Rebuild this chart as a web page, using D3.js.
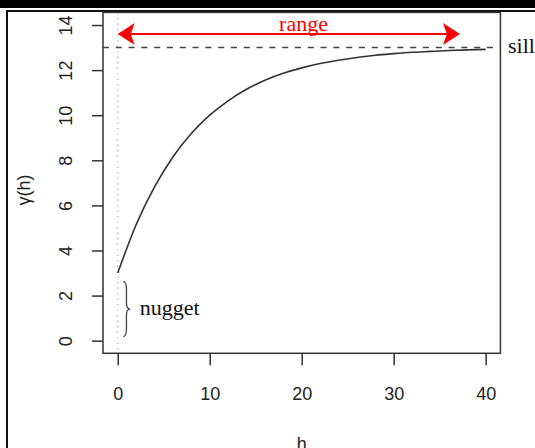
<!DOCTYPE html>
<html>
<head>
<meta charset="utf-8">
<script src="https://cdn.jsdelivr.net/npm/d3@7/dist/d3.min.js"></script>
<style>
  body { margin: 0; background: #fff; }
  svg { display: block; }
</style>
</head>
<body>
<script>
// values
const lags = [0, 2, 4, 6, 8, 10, 12, 14, 16, 18, 20, 22, 24, 26, 28, 30, 32, 34, 36, 38, 40];
const gamma = [3.0, 5.14, 6.82, 8.15, 9.19, 10.0, 10.64, 11.15, 11.55, 11.86, 12.1, 12.29, 12.44, 12.56, 12.66, 12.73, 12.79, 12.83, 12.87, 12.9, 12.92];
const xTicks = [0, 10, 20, 30, 40];
const yTicks = [0, 2, 4, 6, 8, 10, 12, 14];
const nugget = 3;
const sill = 13;
const rangeEnd = 37.2;
const arrowLevel = 13.6;

const w = 535;
const h = 448;
const svg = d3.select("body").append("svg").attr("width", w).attr("height", h);

// outer frame like the screenshot
svg.append("rect").attr("x", 0).attr("y", 0).attr("width", w).attr("height", 8).attr("fill", "#000");
svg.append("path").attr("d", `M7,${h} V11 H${w}`).attr("fill", "none").attr("stroke", "#111").attr("stroke-width", 2);

const x = d3.scaleLinear().domain([-1.6, 41.6]).range([103, 500.4]);
const y = d3.scaleLinear().domain([-0.56, 14.56]).range([353.3, 12.4]);

// x = 0 dotted guide
svg.append("line")
  .attr("x1", x(0)).attr("x2", x(0))
  .attr("y1", y.range()[1]).attr("y2", y.range()[0])
  .attr("stroke", "#bbb").attr("stroke-width", 1.2)
  .attr("stroke-dasharray", "1.5,4");

// sill dashed line
svg.append("line")
  .attr("x1", x.range()[0]).attr("x2", x.range()[1])
  .attr("y1", y(sill)).attr("y2", y(sill))
  .attr("stroke", "#444").attr("stroke-width", 1.5)
  .attr("stroke-dasharray", "6,6.8");

// variogram curve
const line = d3.line()
  .x((d, i) => x(lags[i]))
  .y((d) => y(d))
  .curve(d3.curveMonotoneX);
svg.append("path")
  .datum(gamma)
  .attr("d", line)
  .attr("fill", "none")
  .attr("stroke", "#333")
  .attr("stroke-width", 1.6);

// range arrow
const ay = y(arrowLevel);
const x0 = x(0), x1 = x(rangeEnd);
const hl = 17, hw = 11, notch = 4;
svg.append("line")
  .attr("x1", x0 + 5).attr("x2", x1 - 5)
  .attr("y1", ay).attr("y2", ay)
  .attr("stroke", "#ff0000").attr("stroke-width", 2);
svg.append("path")
  .attr("d", `M${x1},${ay} L${x1 - hl},${ay - hw} L${x1 - hl + notch},${ay} L${x1 - hl},${ay + hw} Z`)
  .attr("fill", "#ff0000");
svg.append("path")
  .attr("d", `M${x0},${ay} L${x0 + hl},${ay - hw} L${x0 + hl - notch},${ay} L${x0 + hl},${ay + hw} Z`)
  .attr("fill", "#ff0000");
svg.append("text")
  .attr("x", x(20.2)).attr("y", 31)
  .attr("text-anchor", "middle")
  .attr("font-family", "Liberation Serif, serif")
  .attr("font-size", 22)
  .attr("fill", "#ff0000")
  .text("range");

// nugget brace
const bx = x(0.6), bmid = x(0.95), btip = x(1.35);
const bt = y(2.62), bb = y(0.18), bm = y(1.4);
svg.append("path")
  .attr("d", `M${bx},${bt} Q${bmid},${bt} ${bmid},${bt + 8} L${bmid},${bm - 6} Q${bmid},${bm} ${btip},${bm} Q${bmid},${bm} ${bmid},${bm + 6} L${bmid},${bb - 8} Q${bmid},${bb} ${bx},${bb}`)
  .attr("fill", "none").attr("stroke", "#444").attr("stroke-width", 1.3);
svg.append("text")
  .attr("x", x(2.4)).attr("y", 315)
  .attr("font-family", "Liberation Serif, serif")
  .attr("font-size", 22)
  .attr("fill", "#111")
  .text("nugget");

svg.append("text")
  .attr("x", 508).attr("y", 53)
  .attr("font-family", "Liberation Serif, serif")
  .attr("font-size", 22)
  .attr("fill", "#111")
  .text("sill");

// plot box
svg.append("rect")
  .attr("x", x.range()[0]).attr("y", y.range()[1])
  .attr("width", x.range()[1] - x.range()[0])
  .attr("height", y.range()[0] - y.range()[1])
  .attr("fill", "none").attr("stroke", "#333").attr("stroke-width", 1.5);

// axes
const xAxis = d3.axisBottom(x).tickValues(xTicks).tickSize(12).tickPadding(22);
const gx = svg.append("g").attr("transform", `translate(0, ${y.range()[0]})`).call(xAxis);
gx.select(".domain").remove();
gx.selectAll("line").attr("stroke", "#333").attr("stroke-width", 1.5);
gx.selectAll("text").attr("font-family", "Liberation Sans, Arial, sans-serif").attr("font-size", 18).attr("fill", "#222");

const yAxis = d3.axisLeft(y).tickValues(yTicks).tickSize(11);
const gy = svg.append("g").attr("transform", `translate(${x.range()[0]}, 0)`).call(yAxis);
gy.select(".domain").remove();
gy.selectAll("line").attr("stroke", "#333").attr("stroke-width", 1.5);
gy.selectAll("text")
  .attr("x", null).attr("dy", null)
  .attr("text-anchor", "middle")
  .attr("transform", "translate(-31, 0) rotate(-90)")
  .attr("font-family", "Liberation Sans, Arial, sans-serif")
  .attr("font-size", 18).attr("fill", "#222");

// axis titles
svg.append("text")
  .attr("x", (x.range()[0] + x.range()[1]) / 2).attr("y", 450)
  .attr("text-anchor", "middle")
  .attr("font-family", "Liberation Sans, Arial, sans-serif")
  .attr("font-size", 18).attr("fill", "#222")
  .text("h");
svg.append("text")
  .attr("transform", "translate(30, 190) rotate(-90)")
  .attr("text-anchor", "middle")
  .attr("font-family", "Liberation Sans, Arial, sans-serif")
  .attr("font-size", 18).attr("fill", "#222")
  .text("γ(h)");
</script>
</body>
</html>
